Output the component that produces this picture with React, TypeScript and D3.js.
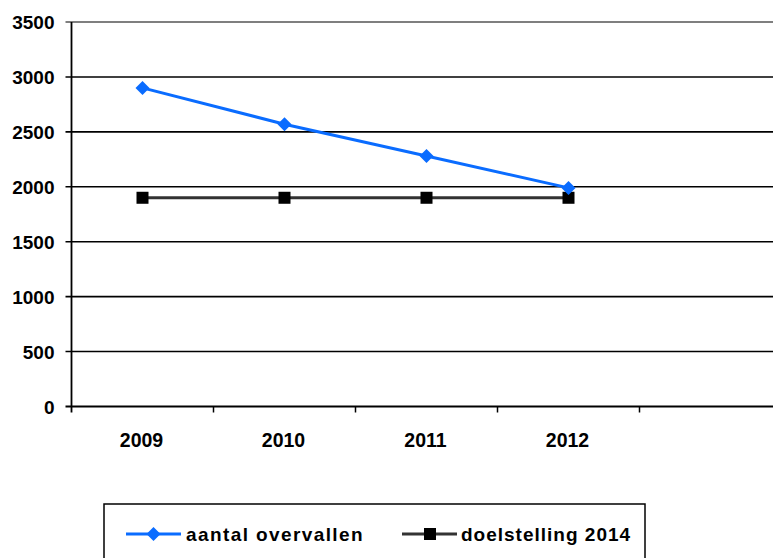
import * as d3 from "d3";

const categories = ["2009", "2010", "2011", "2012", ""];
const overvallen = [2900, 2570, 2280, 1990];
const doelstelling = [1900, 1900, 1900, 1900];
const yTicks = [0, 500, 1000, 1500, 2000, 2500, 3000, 3500];

const blue = "#0a6cff";
const font = "'Liberation Sans', Arial, sans-serif";

export default function App() {
  const width = 773;
  const height = 558;
  const margin = { top: 22, left: 71.5, right: -8.5, bottom: 151.5 };
  const x = d3.scaleBand(categories, [margin.left, width - margin.right]);
  const y = d3.scaleLinear([0, 3500], [height - margin.bottom, margin.top]);
  const cx = (i: number) => (x(categories[i]) ?? 0) + x.bandwidth() / 2;
  const line = d3
    .line<number>()
    .x((_, i) => cx(i))
    .y((v) => y(v));
  const diamond = (px: number, py: number, r: number) =>
    `M${px},${py - r}L${px + r},${py}L${px},${py + r}L${px - r},${py}Z`;

  return (
    <svg
      width={width}
      height={height}
      style={{ position: "absolute", left: 0, top: 0, background: "#fff" }}
      fontFamily={font}
      fontWeight="bold"
    >
      {yTicks.map((t) => (
        <g key={t}>
          <line
            x1={margin.left - 6}
            x2={width}
            y1={y(t)}
            y2={y(t)}
            stroke={t === 3500 ? "#555" : "#000"}
            strokeWidth={t === 0 ? 2 : 1.6}
          />
          <text x={54.5} y={y(t) + 7} textAnchor="end" fontSize={19}>
            {t}
          </text>
        </g>
      ))}
      <line x1={margin.left} x2={margin.left} y1={margin.top} y2={y(0) + 6} stroke="#000" strokeWidth={1.8} />
      {categories.map((c) => (
        <line
          key={"t" + c}
          x1={(x(c) ?? 0) + x.bandwidth()}
          x2={(x(c) ?? 0) + x.bandwidth()}
          y1={y(0)}
          y2={y(0) + 6}
          stroke="#000"
          strokeWidth={1.5}
        />
      ))}
      {categories.map((c, i) => (
        <text key={"l" + c} x={cx(i) - 1} y={y(0) + 40} textAnchor="middle" fontSize={19.5}>
          {c}
        </text>
      ))}
      <path d={line(doelstelling) ?? undefined} fill="none" stroke="#333" strokeWidth={3} />
      {doelstelling.map((v, i) => (
        <rect key={"s" + i} x={cx(i) - 6} y={y(v) - 6} width={12} height={12} fill="#000" />
      ))}
      <path d={line(overvallen) ?? undefined} fill="none" stroke={blue} strokeWidth={3} />
      {overvallen.map((v, i) => (
        <path key={"d" + i} d={diamond(cx(i), y(v), 7)} fill={blue} />
      ))}
      <rect x={104} y={504} width={541} height={60} fill="#fff" stroke="#000" strokeWidth={1.5} />
      <line x1={126} x2={181} y1={534} y2={534} stroke={blue} strokeWidth={3} />
      <path d={diamond(153.5, 534, 7)} fill={blue} />
      <text x={186} y={541} fontSize={19} letterSpacing={1.4}>
        aantal overvallen
      </text>
      <line x1={402} x2={457} y1={534} y2={534} stroke="#333" strokeWidth={3} />
      <rect x={424} y={528} width={12} height={12} fill="#000" />
      <text x={461} y={541} fontSize={19} letterSpacing={1}>
        doelstelling 2014
      </text>
    </svg>
  );
}
